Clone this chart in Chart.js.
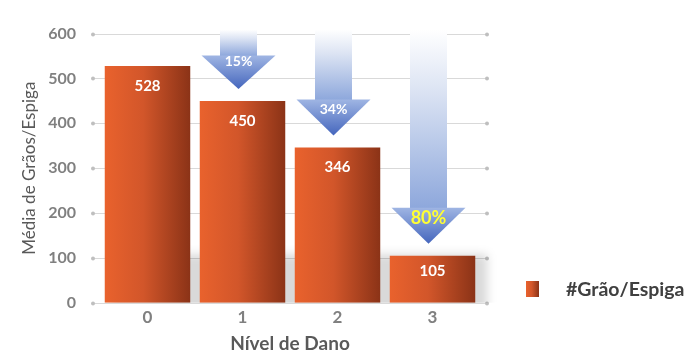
<!DOCTYPE html>
<html>
<head>
<meta charset="utf-8">
<script src="https://cdn.jsdelivr.net/npm/chart.js@4/dist/chart.umd.min.js"></script>
<style>
html,body{margin:0;padding:0;background:#fff;}
#wrap{width:692px;height:359px;position:relative;}
</style>
</head>
<body>
<div id="wrap"><canvas id="c" width="692" height="359"></canvas></div>
<script>
const categories = ['0', '1', '2', '3'];
const grainsPerEar = [528, 450, 346, 105];
const reductionLabels = ['', '15%', '34%', '80%'];
const yTickValues = [0, 100, 200, 300, 400, 500, 600];
const seriesLabel = '#Grão/Espiga';
const xTitle = 'Nível de Dano';
const yTitle = 'Média de Grãos/Espiga';

const FONT = 'Lato, "Open Sans", sans-serif';
const BAR_FRAC = 0.9;
const GRID_EXT = 7;

function barGradient(ctx, left, right) {
  const g = ctx.createLinearGradient(left, 0, right, 0);
  g.addColorStop(0, '#e9622d');
  g.addColorStop(0.45, '#d2562a');
  g.addColorStop(1, '#8b3317');
  return g;
}

const decorPlugin = {
  id: 'decor',
  beforeDatasetsDraw(chart) {
    const ctx = chart.ctx, ys = chart.scales.y, ca = chart.chartArea;
    const meta = chart.getDatasetMeta(0);
    ctx.save();
    ys.ticks.forEach(tk => {
      const y = Math.round(ys.getPixelForValue(tk.value)) + 0.5;
      ctx.strokeStyle = '#d9d9d9';
      ctx.lineWidth = 1;
      ctx.beginPath();
      ctx.moveTo(ca.left - GRID_EXT, y);
      ctx.lineTo(ca.right + GRID_EXT, y);
      ctx.stroke();
      ctx.fillStyle = '#bfbfbf';
      [ca.left - GRID_EXT, ca.right + GRID_EXT].forEach(x => {
        ctx.beginPath(); ctx.arc(x, y, 2, 0, Math.PI * 2); ctx.fill();
      });
    });
    ctx.restore();
    const first = meta.data[0], last = meta.data[meta.data.length - 1];
    const l = first.x - first.width / 2 + 8, r = last.x + last.width / 2 + 12;
    const t = ys.getPixelForValue(108), b = ys.getPixelForValue(0);
    ctx.save();
    ctx.beginPath();
    ctx.rect(0, 0, chart.width, b);
    ctx.clip();
    ctx.filter = 'blur(5px)';
    ctx.fillStyle = 'rgba(0,0,0,0.15)';
    ctx.fillRect(l, t, r - l, b - t + 10);
    ctx.restore();
  },
  afterDatasetsDraw(chart) {
    const ctx = chart.ctx;
    const meta = chart.getDatasetMeta(0);
    const top = chart.chartArea.top - 4;
    meta.data.forEach((el, i) => {
      const lab = reductionLabels[i];
      if (!lab) return;
      const cx = el.x - 4;
      const tip = el.y - 12;
      const total = tip - top;
      const headH = Math.min(36, total - 26);
      const headTop = tip - headH;
      const shaftHalf = 18.5, headHalf = 37;
      ctx.save();
      const gs = ctx.createLinearGradient(0, top, 0, headTop);
      gs.addColorStop(0, 'rgba(255,255,255,1)');
      gs.addColorStop(0.35, '#dbe3f3');
      gs.addColorStop(1, '#8ea8dc');
      ctx.fillStyle = gs;
      ctx.fillRect(cx - shaftHalf, top, shaftHalf * 2, headTop - top + 1);
      const gh = ctx.createLinearGradient(0, headTop, 0, tip);
      gh.addColorStop(0, '#9fb5e3');
      gh.addColorStop(1, '#4566bd');
      ctx.fillStyle = gh;
      ctx.beginPath();
      ctx.moveTo(cx - headHalf, headTop);
      ctx.lineTo(cx + headHalf, headTop);
      ctx.lineTo(cx, tip);
      ctx.closePath();
      ctx.fill();
      const big = i === reductionLabels.length - 1;
      ctx.font = 'bold ' + (big ? 18 : 14) + 'px ' + FONT;
      ctx.fillStyle = big ? '#ffff33' : '#ffffff';
      ctx.textAlign = 'center';
      ctx.textBaseline = 'middle';
      ctx.fillText(lab, cx, headTop + (big ? 10 : (i === 1 ? 6 : 10)));
      ctx.restore();
    });
    ctx.save();
    ctx.font = 'bold 15px ' + FONT;
    ctx.fillStyle = '#ffffff';
    ctx.textAlign = 'center';
    ctx.textBaseline = 'middle';
    meta.data.forEach((el, i) => {
      const off = i === 3 ? 15 : 20;
      ctx.fillText(String(grainsPerEar[i]), el.x, el.y + off);
    });
    ctx.restore();
  },
  afterDraw(chart) {
    const ctx = chart.ctx;
    ctx.save();
    const bx = 526, by = 281, bw = 13, bh = 16;
    ctx.fillStyle = barGradient(ctx, bx, bx + bw);
    ctx.fillRect(bx, by, bw, bh);
    ctx.font = 'bold 19.5px ' + FONT;
    ctx.fillStyle = '#404040';
    ctx.textAlign = 'left';
    ctx.textBaseline = 'middle';
    ctx.fillText(seriesLabel, 566, by + bh / 2 + 1);
    ctx.restore();
  }
};

new Chart(document.getElementById('c'), {
  type: 'bar',
  data: {
    labels: categories,
    datasets: [{
      label: seriesLabel,
      data: grainsPerEar,
      barPercentage: 1,
      categoryPercentage: BAR_FRAC,
      backgroundColor(context) {
        const chart = context.chart, xs = chart.scales.x;
        if (!xs || !chart.chartArea) return '#d2562a';
        const c = xs.getPixelForValue(context.dataIndex);
        const half = (xs.width / categories.length) * BAR_FRAC / 2;
        return barGradient(chart.ctx, c - half, c + half);
      },
      borderWidth: 0
    }]
  },
  options: {
    responsive: false,
    animation: false,
    layout: { padding: { left: 19, right: 212, top: 18, bottom: 4 } },
    plugins: { legend: { display: false }, tooltip: { enabled: false } },
    scales: {
      x: {
        grid: { display: false },
        border: { display: false },
        ticks: { color: '#808080', font: { family: FONT, size: 17, weight: 'bold' }, padding: -3 },
        title: { display: true, text: xTitle, color: '#595959', font: { family: FONT, size: 19, weight: 'bold' }, padding: { top: 7, bottom: 0 } }
      },
      y: {
        min: 0, max: 600,
        afterBuildTicks(axis) { axis.ticks = yTickValues.map(v => ({ value: v })); },
        afterFit(axis) { axis.width = 81; },
        grid: { display: false, drawTicks: false },
        border: { display: false },
        ticks: { color: '#808080', font: { family: FONT, size: 16, weight: 'bold' }, padding: 24 },
        title: { display: true, text: yTitle, color: '#595959', font: { family: FONT, size: 17 }, padding: { top: 0, bottom: 0 } }
      }
    }
  },
  plugins: [decorPlugin]
});
</script>
</body>
</html>
